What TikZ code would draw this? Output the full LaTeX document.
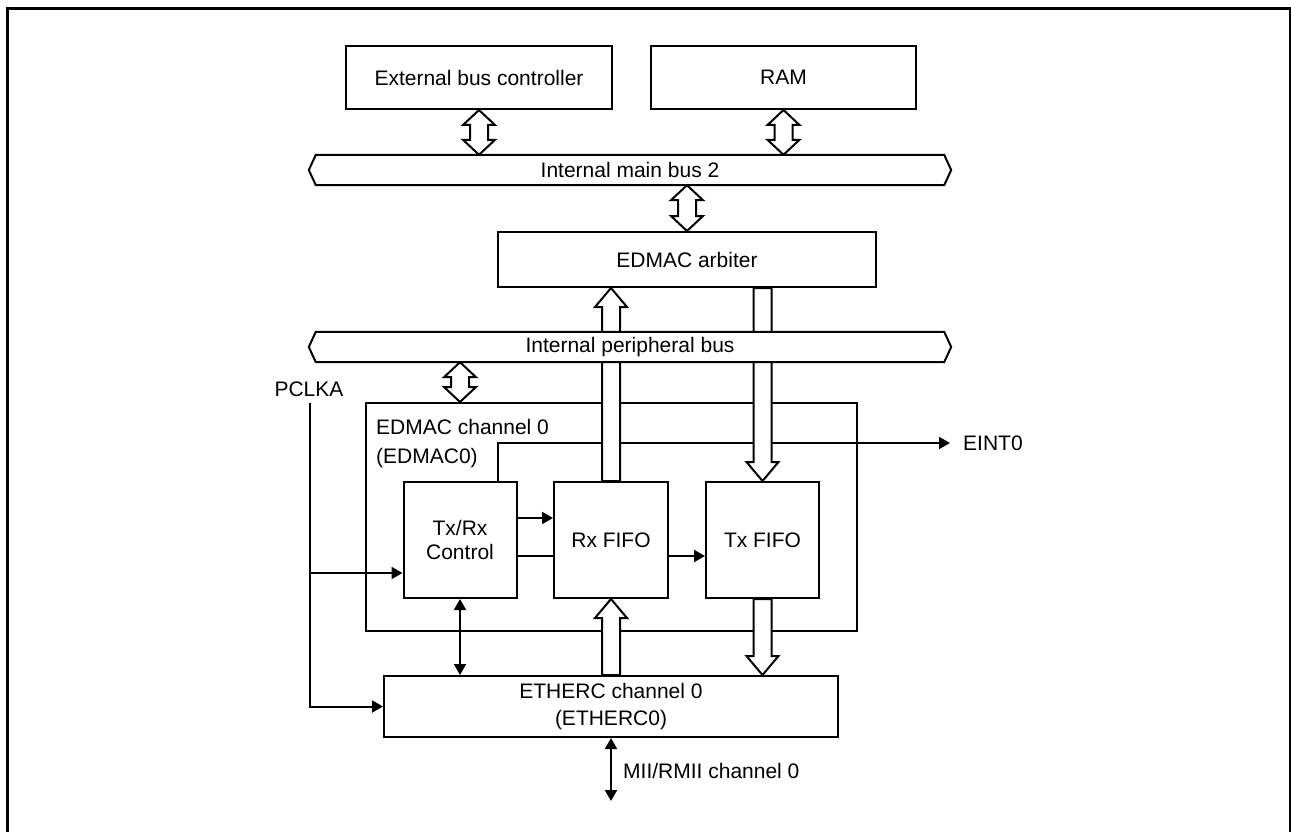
\documentclass[tikz,border=0pt]{standalone}
\usepackage{fontspec}
\setmainfont{Liberation Sans}
\usetikzlibrary{arrows.meta,calc}
\pgfdeclarelayer{front}
\pgfdeclarelayer{top}
\pgfsetlayers{main,front,top}

\newcommand\hollowboth[2]{%
  \draw[hollow] let \p1=(#1), \p2=(#2) in
   (\x1,\y1) -- (\x1+16pt,\y1-15pt) -- (\x1+9pt,\y1-15pt) -- (\x1+9pt,\y2+15pt)
   -- (\x1+16pt,\y2+15pt) -- (\x1,\y2) -- (\x1-16pt,\y2+15pt) -- (\x1-9pt,\y2+15pt)
   -- (\x1-9pt,\y1-15pt) -- (\x1-16pt,\y1-15pt) -- cycle;}
\newcommand\hollowup[2]{%
  \draw[hollow] let \p1=(#1), \p2=(#2) in
   (\x2,\y2) -- (\x2+16pt,\y2-19pt) -- (\x2+9pt,\y2-19pt) -- (\x2+9pt,\y1)
   -- (\x2-9pt,\y1) -- (\x2-9pt,\y2-19pt) -- (\x2-16pt,\y2-19pt) -- cycle;}
\newcommand\hollowdown[2]{%
  \draw[hollow] let \p1=(#1), \p2=(#2) in
   (\x2,\y2) -- (\x2+16pt,\y2+19pt) -- (\x2+9pt,\y2+19pt) -- (\x2+9pt,\y1)
   -- (\x2-9pt,\y1) -- (\x2-9pt,\y2+19pt) -- (\x2-16pt,\y2+19pt) -- cycle;}

\tikzset{
  txt/.style={font=\fontsize{21}{25}\selectfont},
  box/.style={txt, draw, line width=2pt, inner sep=0pt, align=center},
  conn/.style={line width=2pt},
  arr/.style={conn, -{Triangle[length=11pt,width=12pt]}},
  darr/.style={conn, {Triangle[length=11pt,width=12pt]}-{Triangle[length=11pt,width=12pt]}},
  hollow/.style={draw, line width=2pt, fill=white, line join=miter},
  busshape/.style={draw, line width=2pt, fill=white, line join=miter},
  lbl/.style={txt, inner sep=0pt},
}

\begin{document}
\begin{tikzpicture}[x=1pt,y=-1pt]
\useasboundingbox (0,0) rectangle (1291,832);
\draw[line width=3pt] (7.5,8.5) rectangle (1290,845);

% boxes
\node[box, minimum width=266pt, minimum height=63pt] (ext) at (479,77.5) {External bus controller};
\node[box, minimum width=265pt, minimum height=63pt] (ram) at (783.5,77.5) {RAM};
\node[box, minimum width=378pt, minimum height=55pt] (arb) at (687,259.5) {EDMAC arbiter};
\node[box, minimum width=491pt, minimum height=228pt] (edmac) at (611.5,517) {};
\node[lbl, anchor=north west, align=left, font=\fontsize{21}{29}\selectfont] (edlbl) at (376,419) {EDMAC channel 0\\(EDMAC0)};
\node[box, minimum width=113pt, minimum height=116pt, font=\fontsize{21}{24}\selectfont] (tr) at (460,540) {Tx/Rx\\Control};
\node[box, minimum width=114pt, minimum height=116pt] (rx) at (611,540) {Rx FIFO};
\node[box, minimum width=113pt, minimum height=116pt] (tx) at (762.5,540) {Tx FIFO};
\node[box, minimum width=454pt, minimum height=61pt, font=\fontsize{21}{27}\selectfont] (eth) at (611,706.5) {ETHERC channel 0\\(ETHERC0)};

% labels
\node[lbl] (pclk) at (309,389) {PCLKA};
\node[lbl, anchor=west] (eint) at (963,443) {EINT0};
\node[lbl, anchor=west] (mii) at (623,771) {MII/RMII channel 0};

% bus text (on top)
\begin{pgfonlayer}{top}
\node[lbl, minimum width=628pt, minimum height=30pt] (bus2) at (630,170) {Internal main bus 2};
\node[lbl, minimum width=628pt, minimum height=30pt] (pbus) at (630,347) {Internal peripheral bus};
\end{pgfonlayer}

% thin connectors
\coordinate (pktop) at (310,403);
\coordinate (pkbr) at (310,573);
\draw[arr] (pktop) |- (eth.west);
\draw[arr] (pkbr) -- (pkbr -| tr.west);
\coordinate (eintsrc) at ([xshift=38pt]tr.north);
\draw[arr] (eintsrc) |- ([xshift=-13pt]eint.west);
\draw[arr] ([yshift=22pt]tr.east) -- ([yshift=22pt]rx.west);
\draw[conn] ([yshift=-16pt]tr.east) -- ([yshift=-16pt]rx.west);
\draw[arr] ([yshift=-16pt]rx.east) -- ([yshift=-16pt]tx.west);
\draw[darr] (tr.south) -- (tr.south |- eth.north);
\coordinate (miiend) at (611,801);
\draw[darr] (eth.south) -- (miiend);

% hollow arrows and buses
\begin{pgfonlayer}{front}
\hollowboth{ext.south}{ext.south |- bus2.north}
\hollowboth{ram.south}{ram.south |- bus2.north}
\hollowboth{arb.north |- bus2.south}{arb.north}
\hollowboth{tr.north |- pbus.south}{tr.north |- edmac.north}
\hollowup{rx.north}{rx.north |- arb.south}
\hollowdown{tx.north |- arb.south}{tx.north}
\hollowup{rx.south |- eth.north}{rx.south}
\hollowdown{tx.south}{tx.south |- eth.north}
\draw[busshape] (bus2.north west) -- (bus2.north east) -- ([xshift=7pt]bus2.east)
  -- (bus2.south east) -- (bus2.south west) -- ([xshift=-7pt]bus2.west) -- cycle;
\draw[busshape] (pbus.north west) -- (pbus.north east) -- ([xshift=7pt]pbus.east)
  -- (pbus.south east) -- (pbus.south west) -- ([xshift=-7pt]pbus.west) -- cycle;
\end{pgfonlayer}
\end{tikzpicture}
\end{document}
